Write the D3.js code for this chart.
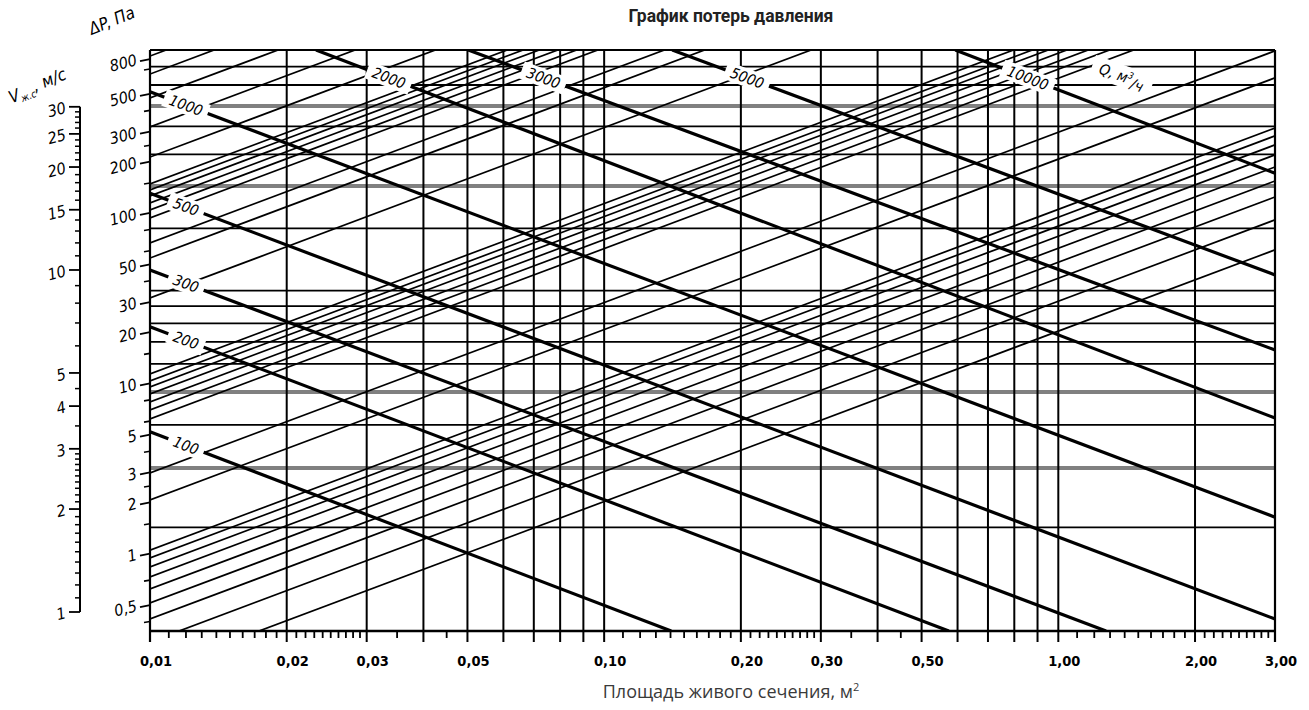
<!DOCTYPE html>
<html><head><meta charset="utf-8">
<script src="https://cdn.jsdelivr.net/npm/d3@7"></script>
<style>body{margin:0;background:#fff}svg{display:block}</style>
</head><body>
<svg id="c" width="1309" height="710"></svg>
<script>
// ---------- data ----------
const xTickValues = [0.01,0.02,0.03,0.05,0.1,0.2,0.3,0.5,1,2,3];
const xTickLabels = ["0,01","0,02","0,03","0,05","0,10","0,20","0,30","0,50","1,00","2,00","3,00"];
const xGridValues = [0.02,0.03,0.04,0.05,0.06,0.07,0.08,0.09,0.1,0.2,0.3,0.4,0.5,0.6,0.7,0.8,0.9,1,2];
const xMinorMult = [1.1,1.2,1.3,1.4,1.5,1.6,1.7,1.8,1.9,2.1,2.2,2.3,2.4,2.5,2.6,2.7,2.8,2.9,3.5,4.5];
const xDecades = [0.01,0.1,1];

const pTickValues = [800,500,300,200,100,50,30,20,10,5,3,2,1,0.5];
const pTickLabels = ["800","500","300","200","100","50","30","20","10","5","3","2","1","0,5"];
const pMinorValues = [700,400,250,150,80,60,40,15,8,6,4,2.5,1.5,0.7,0.4];
const pDomain = [0.352, 905];

const vTickValues = [30,25,20,15,10,5,4,3,2,1];
const vTickLabels = ["30","25","20","15","10","5","4","3","2","1"];
const vMinorValues = [1.1,1.2,1.3,1.4,1.5,1.6,1.7,1.8,1.9,2.1,2.2,2.3,2.4,2.5,2.6,2.7,2.8,2.9,3.5,4.5,6,7,8,9,11,12,13,14,16,17,18,19,21,22,23,24,26,27,28,29];

// horizontal grid (ΔP, Па)
const hGridBlack = [722,564,322,221,81.3,35,28.4,22.5,17.5,13,5.7,1.43];
const hGridGray = [425,144,8.9,3.19];

// flow-rate lines Q, м³/ч (start / end points)
const qValues = [100,200,300,500,1000,2000,3000,5000,10000];
const qStartA = [0.01,0.01,0.01,0.01,0.01,0.0232,0.0502,0.1412,0.593];
const qStartP = [5.2,21.5,46.3,130.5,515,905,905,905,905];
const qEndA   = [0.1405,0.574,1.274,3,3,3,3,3,3];
const qEndP   = [0.352,0.352,0.352,0.414,1.64,6.26,15.7,43.3,171];

// ascending thin lines: ΔP at A = 0,01 and at A = 3,00 (extended)
const ascLeftP  = [834,654,473,320,213,148.0,136.5,125.8,114.5,104.1,93.5,66.7,54.4,31.7,11.36,10.33,9.53,8.67,7.78,6.98,6.18,2.98,2.07,1.05,0.945,0.837,0.731,0.621,0.514,0.414,0.3037,0.2025];
const ascRightP = [250200,196200,141900,96000,63900,44400,40950,37740,34350,31230,28050,20010,16320,9510,3408,3099,2859,2601,2334,2094,1854,894,621,315,283.5,251.1,219.3,186.3,154.2,124.2,91.1,60.75];

// ---------- layout ----------
const svg = d3.select("#c");
const L = 150, R = 1275, T = 50, B = 631;
const x = d3.scaleLog().domain([0.01,3]).range([L,R]);
const y = d3.scaleLog().domain(pDomain).range([B,T]);
const v = d3.scaleLog().domain([1,30]).range([612,106.8]);
const cad = '"DejaVu Sans Condensed","Liberation Sans Narrow",sans-serif';

svg.append("rect").attr("width",1309).attr("height",710).attr("fill","#fff");

svg.append("defs").append("clipPath").attr("id","plot")
  .append("rect").attr("x",L).attr("y",T).attr("width",R-L).attr("height",B-T);

const plot = svg.append("g").attr("clip-path","url(#plot)");

// horizontal grid
plot.selectAll(".hb").data(hGridBlack).join("line")
  .attr("x1",L).attr("x2",R).attr("y1",d=>y(d)).attr("y2",d=>y(d))
  .attr("stroke","#000").attr("stroke-width",1.8);
plot.selectAll(".hg").data(hGridGray).join("line")
  .attr("x1",L).attr("x2",R).attr("y1",d=>y(d)).attr("y2",d=>y(d))
  .attr("stroke","#808080").attr("stroke-width",4);

// vertical grid
svg.selectAll(".vg").data(xGridValues).join("line")
  .attr("x1",d=>x(d)).attr("x2",d=>x(d)).attr("y1",T).attr("y2",B+11)
  .attr("stroke","#000").attr("stroke-width",2);

const line = d3.line().x(d=>x(d[0])).y(d=>y(d[1]));

// ascending lines
plot.selectAll(".asc").data(ascLeftP.map((p,i)=>[[0.01,p],[3,ascRightP[i]]])).join("path")
  .attr("d",line).attr("fill","none").attr("stroke","#000").attr("stroke-width",1.7);

// Q lines
plot.selectAll(".q").data(qValues.map((q,i)=>[[qStartA[i],qStartP[i]],[qEndA[i],qEndP[i]]])).join("path")
  .attr("d",line).attr("fill","none").attr("stroke","#000").attr("stroke-width",3.2);

// Q labels with white gaps
const lab = svg.append("g");
qValues.forEach((q,i)=>{
  const x1=x(qStartA[i]), y1=y(qStartP[i]), x2=x(qEndA[i]), y2=y(qEndP[i]);
  const ang = Math.atan2(y2-y1,x2-x1)*180/Math.PI;
  let cx, cy;
  if (qStartA[i] <= 0.01000001) { cx = x1+36; cy = y1+(cx-x1)*(y2-y1)/(x2-x1); }
  else { cy = T+28; cx = x1+(cy-y1)*(x2-x1)/(y2-y1); }
  const g = lab.append("g").attr("transform",`translate(${cx},${cy}) rotate(${ang})`);
  const t = g.append("text").text(q).attr("text-anchor","middle").attr("dy","0.35em")
    .attr("font-family",cad).attr("font-style","italic").attr("font-size",15).attr("fill","#000");
  const w = t.node().getComputedTextLength();
  g.insert("rect","text").attr("x",-w/2-6).attr("y",-9).attr("width",w+12).attr("height",18).attr("fill","#fff");
});
// Q unit label
{
  const g = lab.append("g").attr("transform",`translate(1122,76) rotate(20)`);
  const t = g.append("text").attr("text-anchor","middle").attr("dy","0.35em")
    .attr("font-family",cad).attr("font-style","italic").attr("font-size",15);
  t.append("tspan").text("Q, м");
  t.append("tspan").text("3").attr("font-size",9).attr("dy","-0.6em");
  t.append("tspan").text("/ч").attr("dy","0.6em");
  const w = t.node().getComputedTextLength();
  g.insert("rect","text").attr("x",-w/2-8).attr("y",-11).attr("width",w+16).attr("height",22).attr("fill","#fff");
}

// frame
svg.append("line").attr("x1",L).attr("x2",L).attr("y1",T).attr("y2",B+11).attr("stroke","#000").attr("stroke-width",2.2);
svg.append("line").attr("x1",R).attr("x2",R).attr("y1",T).attr("y2",B+11).attr("stroke","#000").attr("stroke-width",2.2);
svg.append("line").attr("x1",L).attr("x2",R).attr("y1",T).attr("y2",T).attr("stroke","#000").attr("stroke-width",2);
svg.append("line").attr("x1",L).attr("x2",R).attr("y1",B).attr("y2",B).attr("stroke","#000").attr("stroke-width",2.4);

// x minor ticks
const xMinor = [];
xDecades.forEach(d=>xMinorMult.forEach(m=>{ if (d*m < 3) xMinor.push(d*m); }));
svg.selectAll(".xm").data(xMinor).join("line")
  .attr("x1",d=>x(d)).attr("x2",d=>x(d)).attr("y1",B).attr("y2",B+7)
  .attr("stroke","#000").attr("stroke-width",1.8);

// x tick labels
svg.selectAll(".xl").data(xTickValues).join("text")
  .attr("x",d=>x(d)+6).attr("y",666).attr("text-anchor","middle")
  .attr("font-family",cad).attr("font-weight","bold").attr("font-size",14.5).attr("fill","#000")
  .text((d,i)=>xTickLabels[i]);

// ΔP axis ticks and labels
svg.selectAll(".pt").data(pTickValues).join("line")
  .attr("x1",L-10).attr("x2",L).attr("y1",d=>y(d)+2).attr("y2",d=>y(d))
  .attr("stroke","#000").attr("stroke-width",1.8);
svg.selectAll(".pm").data(pMinorValues).join("line")
  .attr("x1",L-6).attr("x2",L).attr("y1",d=>y(d)+1).attr("y2",d=>y(d))
  .attr("stroke","#000").attr("stroke-width",1.6);
svg.selectAll(".pl").data(pTickValues).join("text")
  .attr("transform",d=>`translate(${L-12},${y(d)+6}) rotate(-14)`)
  .attr("text-anchor","end").attr("font-family",cad).attr("font-style","italic")
  .attr("font-size",16).attr("fill","#000").text((d,i)=>pTickLabels[i]);

// V axis
const VX = 80;
svg.append("line").attr("x1",VX).attr("x2",VX).attr("y1",v(30)).attr("y2",v(1)).attr("stroke","#000").attr("stroke-width",2);
svg.selectAll(".vt").data(vTickValues).join("line")
  .attr("x1",VX-11).attr("x2",VX).attr("y1",d=>v(d)).attr("y2",d=>v(d))
  .attr("stroke","#000").attr("stroke-width",1.8);
svg.selectAll(".vm").data(vMinorValues).join("line")
  .attr("x1",VX-5).attr("x2",VX).attr("y1",d=>v(d)).attr("y2",d=>v(d))
  .attr("stroke","#000").attr("stroke-width",1.5);
svg.selectAll(".vl").data(vTickValues).join("text")
  .attr("transform",d=>`translate(${VX-13},${v(d)+6}) rotate(-14)`)
  .attr("text-anchor","end").attr("font-family",cad).attr("font-style","italic")
  .attr("font-size",16).attr("fill","#000").text((d,i)=>vTickLabels[i]);

// axis names
{
  const t = svg.append("text").attr("transform","translate(114,26) rotate(-22)")
    .attr("text-anchor","middle").attr("font-family",cad).attr("font-style","italic").attr("font-size",17);
  t.text("ΔP, Па");
  const t2 = svg.append("text").attr("transform","translate(40,92) rotate(-22)")
    .attr("text-anchor","middle").attr("font-family",cad).attr("font-style","italic").attr("font-size",17);
  t2.append("tspan").text("V");
  t2.append("tspan").text("ж.с").attr("font-size",10).attr("dy","0.3em");
  t2.append("tspan").text(", м/с").attr("dy","-0.3em");
}

// title
svg.append("text").attr("x",731).attr("y",22).attr("text-anchor","middle")
  .attr("font-family","Roboto,sans-serif").attr("font-weight","bold").attr("font-size",17.5)
  .attr("fill","#222").text("График потерь давления");

// x axis title
{
  const t = svg.append("text").attr("x",731).attr("y",698).attr("text-anchor","middle")
    .attr("font-family","'Open Sans',sans-serif").attr("font-size",18).attr("fill","#3a3a3a");
  t.append("tspan").text("Площадь живого сечения, м");
  t.append("tspan").text("2").attr("font-size",11).attr("dy","-0.6em");
}
</script>
</body></html>
